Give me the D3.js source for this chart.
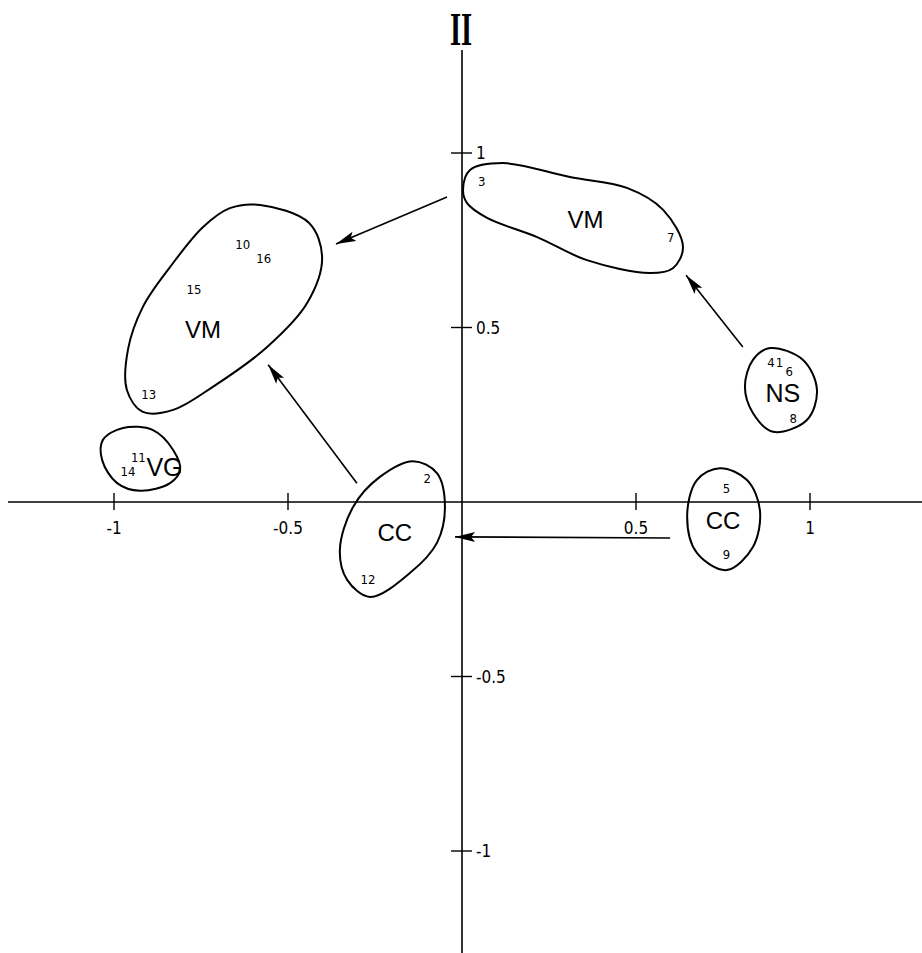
<!DOCTYPE html>
<html>
<head>
<meta charset="utf-8">
<script src="https://cdn.jsdelivr.net/npm/d3@7/dist/d3.min.js"></script>
<style>
  body { margin: 0; background: #fff; }
  svg { display: block; }
  .num { font-family: "Liberation Sans Narrow", "DejaVu Sans Condensed", Arial, sans-serif; font-size: 13px; }
  .tick { font-family: "Liberation Sans Narrow", "DejaVu Sans Condensed", Arial, sans-serif; font-size: 17px; }
  .grp { font-family: "Liberation Sans", Arial, sans-serif; font-size: 24px; }
</style>
</head>
<body>
<svg id="chart"></svg>
<script>
// axis ticks
let xTicks = [-1, -0.5, 0.5, 1];
let yTicks = [1, 0.5, -0.5, -1];
let xTickLabels = ["-1", "-0.5", "0.5", "1"];
let yTickLabels = ["1", "0.5", "-0.5", "-1"];

// numbered points (factor scores, axis I / axis II)
let pointIds = ["1", "2", "3", "4", "5", "6", "7", "8", "9", "10", "11", "12", "13", "14", "15", "16"];
let pointX = [0.912, -0.10, 0.057, 0.888, 0.76, 0.94, 0.60, 0.952, 0.76, -0.63, -0.93, -0.27, -0.90, -0.96, -0.77, -0.57];
let pointY = [0.40, 0.07, 0.92, 0.40, 0.04, 0.375, 0.76, 0.24, -0.15, 0.74, 0.13, -0.22, 0.31, 0.09, 0.61, 0.70];

// group labels
let groupNames = ["VM", "VM", "VG", "CC", "CC", "NS"];
let groupX = [0.355, -0.744, -0.855, -0.193, 0.75, 0.922];
let groupY = [0.81, 0.496, 0.10, -0.086, -0.054, 0.312];
let groupSize = [24, 24, 25, 24, 24, 25];

// group outlines (in axis units)
let outlineVM1 = [[0.003,0.894],[0.023,0.951],[0.118,0.971],[0.310,0.931],[0.474,0.900],[0.578,0.837],[0.635,0.731],[0.606,0.670],[0.540,0.656],[0.359,0.693],[0.216,0.759],[0.072,0.814],[0.014,0.857]];
let outlineVM2 = [[-0.580,0.851],[-0.440,0.800],[-0.402,0.700],[-0.445,0.570],[-0.560,0.444],[-0.716,0.330],[-0.830,0.264],[-0.917,0.258],[-0.963,0.321],[-0.960,0.436],[-0.917,0.559],[-0.839,0.673],[-0.744,0.788],[-0.667,0.842]];
let outlineVG = [[-1.032,0.178],[-0.974,0.212],[-0.888,0.206],[-0.830,0.149],[-0.810,0.092],[-0.839,0.054],[-0.925,0.032],[-0.991,0.054],[-1.034,0.120]];
let outlineCC1 = [[-0.141,0.117],[-0.072,0.083],[-0.049,-0.014],[-0.072,-0.117],[-0.149,-0.203],[-0.264,-0.272],[-0.330,-0.223],[-0.351,-0.138],[-0.313,-0.014],[-0.236,0.072]];
let outlineNS = [[0.885,0.441],[0.980,0.407],[1.020,0.321],[0.991,0.235],[0.894,0.201],[0.836,0.255],[0.813,0.330],[0.836,0.407]];
let outlineCC2 = [[0.741,0.097],[0.819,0.063],[0.856,-0.023],[0.836,-0.129],[0.761,-0.195],[0.675,-0.146],[0.647,-0.043],[0.675,0.063]];

// arrows: from -> to
let arrowFrom = [[-0.043, 0.874], [0.807, 0.444], [-0.302, 0.054], [0.598, -0.103]];
let arrowTo = [[-0.362, 0.739], [0.644, 0.650], [-0.557, 0.393], [-0.020, -0.100]];

let width = 922, height = 953;
let svg = d3.select("#chart").attr("width", width).attr("height", height);

let x = d3.scaleLinear().domain([-1, 1]).range([114, 810]);
let y = d3.scaleLinear().domain([-1, 1]).range([851, 153]);

let g = svg.append("g");

// axes through origin
g.append("line").attr("x1", 8).attr("x2", 922).attr("y1", y(0)).attr("y2", y(0))
  .attr("stroke", "#000").attr("stroke-width", 1.5);
g.append("line").attr("x1", x(0)).attr("x2", x(0)).attr("y1", 50).attr("y2", 953)
  .attr("stroke", "#000").attr("stroke-width", 1.6);

g.selectAll(".xt").data(xTicks).enter().append("line")
  .attr("x1", d => x(d)).attr("x2", d => x(d))
  .attr("y1", y(0) - 9).attr("y2", y(0) + 8)
  .attr("stroke", "#000").attr("stroke-width", 1.4);
g.selectAll(".yt").data(yTicks).enter().append("line")
  .attr("x1", x(0) - 11).attr("x2", x(0) + 10)
  .attr("y1", d => y(d)).attr("y2", d => y(d))
  .attr("stroke", "#000").attr("stroke-width", 1.4);

g.selectAll(".xl").data(xTicks).enter().append("text")
  .attr("class", "tick")
  .attr("x", d => x(d)).attr("y", y(0) + 32)
  .attr("text-anchor", "middle")
  .text((d, i) => xTickLabels[i]);
g.selectAll(".yl").data(yTicks).enter().append("text")
  .attr("class", "tick")
  .attr("x", x(0) + 14).attr("y", d => y(d) + 6)
  .text((d, i) => yTickLabels[i]);

// axis name
svg.append("text")
  .attr("transform", "translate(" + (x(0) - 1) + ",45) scale(0.62,1)")
  .attr("text-anchor", "middle")
  .style("font-family", "'Liberation Serif', 'DejaVu Serif', serif")
  .style("font-weight", "bold")
  .style("font-size", "46px")
  .text("II");

// outlines
let blob = d3.line().x(d => x(d[0])).y(d => y(d[1])).curve(d3.curveCatmullRomClosed.alpha(0.5));
[outlineVM1, outlineVM2, outlineVG, outlineCC1, outlineNS, outlineCC2].forEach(function(o) {
  g.append("path").attr("d", blob(o))
    .attr("fill", "none").attr("stroke", "#000").attr("stroke-width", 2);
});

// arrows
svg.append("defs").append("marker")
  .attr("id", "head")
  .attr("viewBox", "0 0 20 10")
  .attr("refX", 20).attr("refY", 5)
  .attr("markerWidth", 20).attr("markerHeight", 10)
  .attr("markerUnits", "userSpaceOnUse")
  .attr("orient", "auto")
  .append("path").attr("d", "M0,0 L20,5 L0,10 L4,5 Z").attr("fill", "#000");

g.selectAll(".arrow").data(arrowFrom).enter().append("line")
  .attr("x1", d => x(d[0])).attr("y1", d => y(d[1]))
  .attr("x2", (d, i) => x(arrowTo[i][0])).attr("y2", (d, i) => y(arrowTo[i][1]))
  .attr("stroke", "#000").attr("stroke-width", 1.6)
  .attr("marker-end", "url(#head)");

// point numbers
g.selectAll(".num").data(pointIds).enter().append("text")
  .attr("class", "num")
  .attr("x", (d, i) => x(pointX[i])).attr("y", (d, i) => y(pointY[i]) + 5)
  .attr("text-anchor", "middle")
  .text(d => d);

// group labels
g.selectAll(".grp").data(groupNames).enter().append("text")
  .attr("class", "grp")
  .style("font-size", (d, i) => groupSize[i] + "px")
  .attr("x", (d, i) => x(groupX[i])).attr("y", (d, i) => y(groupY[i]) + groupSize[i] * 0.36)
  .attr("text-anchor", "middle")
  .text(d => d);
</script>
</body>
</html>
